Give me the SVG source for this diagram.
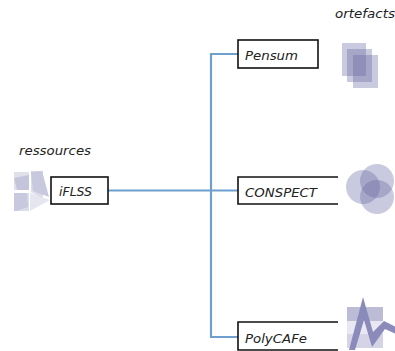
<svg xmlns="http://www.w3.org/2000/svg" width="395" height="351" viewBox="0 0 395 351">
<defs><filter id="soft" x="-10%" y="-10%" width="120%" height="120%"><feGaussianBlur stdDeviation="0.6"/></filter></defs>
<style>
.box{fill:#fff;stroke:#111;stroke-width:1.6}
.lbl{font-family:"DejaVu Sans","Liberation Sans",sans-serif;font-style:italic;font-size:12px;fill:#222}
.conn{fill:none;stroke:#6f9fcf;stroke-width:2.2}
.art{fill:#5f5f9f;fill-opacity:.33}
.icon{filter:url(#soft)}
</style>
<rect width="395" height="351" fill="#fff"/>
<g id="connectors">
<path class="conn" d="M238 54H211V337H238"/>
<path class="conn" d="M108 190.500H238"/>
</g>
<g id="ressources">
<text class="lbl" x="19" y="155" textLength="72" lengthAdjust="spacingAndGlyphs">ressources</text>
<g class="icon">
<path d="M14 172H29V190H14Z" fill="#e0e0ec"/>
<path d="M17 190L14 178L29 175V190Z" fill="#c4c4da"/>
<path d="M31 171H43V199L31 192Z" fill="#dcdcea"/>
<path d="M31 172L42 171L49 197L33 191Z" fill="#c8c8de"/>
<path d="M14 193H29V211H14Z" fill="#dcdcea"/>
<path d="M14 193H27L28 207L16 211H14Z" fill="#c8c8de"/>
<path d="M30 193L50 200L30 211Z" fill="#e6e6f0"/>
</g>
</g>
<g id="iflss">
<rect class="box" x="51" y="177" width="57" height="27"/>
<text class="lbl" x="59" y="196" textLength="33" lengthAdjust="spacingAndGlyphs">iFLSS</text>
</g>
<g id="pensum">
<rect class="box" x="238" y="40" width="80" height="28"/>
<text class="lbl" x="245" y="60" textLength="53" lengthAdjust="spacingAndGlyphs">Pensum</text>
</g>
<g id="conspect">
<path d="M338 177H238V204H338" fill="#fff" stroke="#111" stroke-width="1.600"/>
<text class="lbl" x="245" y="197" textLength="72" lengthAdjust="spacingAndGlyphs">CONSPECT</text>
</g>
<g id="polycafe">
<path d="M338 322H238V350H338" fill="#fff" stroke="#111" stroke-width="1.600"/>
<text class="lbl" x="245" y="343" textLength="62" lengthAdjust="spacingAndGlyphs">PolyCAFe</text>
</g>
<g id="artefacts">
<text class="lbl" x="335" y="18" textLength="60" lengthAdjust="spacingAndGlyphs">ortefacts</text>
<g class="icon">
<rect class="art" x="342" y="43" width="24" height="33"/>
<rect class="art" x="347" y="49" width="25" height="33"/>
<rect class="art" x="353" y="55" width="25" height="33"/>
</g>
</g>
<g id="conspect-icon" class="icon">
<circle class="art" cx="363" cy="187" r="17"/>
<circle class="art" cx="377" cy="181" r="17"/>
<circle class="art" cx="377" cy="197" r="17"/>
</g>
<g id="polycafe-icon" class="icon">
<rect x="347" y="307" width="36" height="14" fill="#bcbcd6"/>
<rect x="347" y="321" width="36" height="13" fill="#e8e8f2"/>
<rect x="347" y="334" width="36" height="14" fill="#d4d4e6"/>
<path d="M349 350L363 297L373 332L384 321L396 327V334L385 329L372 347L364 320L355 350Z" fill="#8a8abb"/>
</g>
</svg>
